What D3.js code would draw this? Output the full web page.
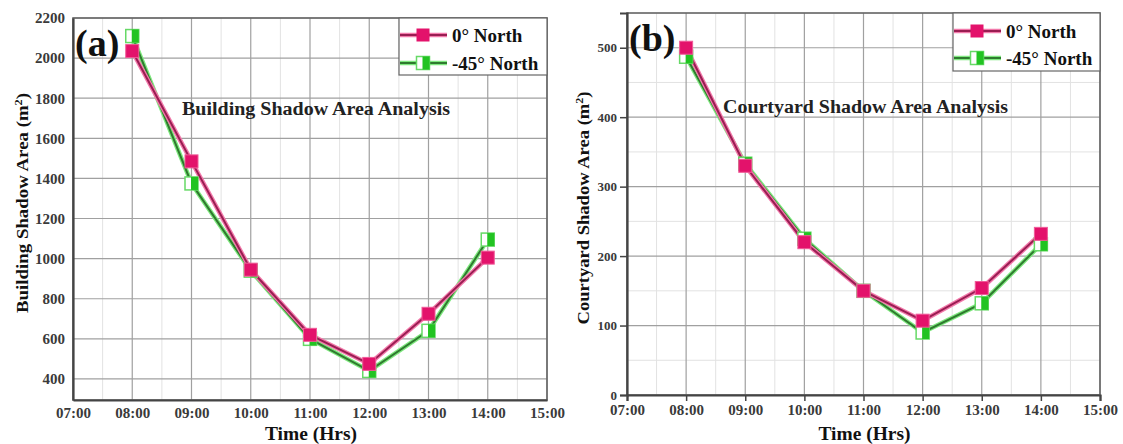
<!DOCTYPE html>
<html>
<head>
<meta charset="utf-8">
<script src="https://cdn.jsdelivr.net/npm/d3@7"></script>
<style>
  html, body { margin: 0; padding: 0; background: #fff; }
  svg text { font-family: "Liberation Serif", "Times New Roman", serif; font-weight: bold; }
</style>
</head>
<body>
<svg id="chart" width="1123" height="444"></svg>
<script>
// Hours of the day on the x axis
const hours = [8, 9, 10, 11, 12, 13, 14];
const xTicks = [7, 8, 9, 10, 11, 12, 13, 14, 15];

// Building shadow area (m²)
const buildingNorth0 = [2035, 1485, 945, 620, 475, 725, 1005];
const buildingNorth45 = [2110, 1375, 940, 600, 440, 640, 1095];
const buildingTicks = [400, 600, 800, 1000, 1200, 1400, 1600, 1800, 2000, 2200];

// Courtyard shadow area (m²)
const courtyardNorth0 = [500, 330, 220, 150, 107, 154, 232];
const courtyardNorth45 = [487, 333, 225, 150, 90, 132, 217];
const courtyardTicks = [0, 100, 200, 300, 400, 500];

const seriesNames = ["0° North", "-45° North"];

const svg = d3.select("#chart");
const pink = "#e3126b", pinkLine = "#9a1d52", pinkHalo = "#f27aab";
const green = "#22c322", greenLine = "#2f7a2f", greenHalo = "#7ee87e";
const ms = 13;

function drawGreenMarker(sel) {
  sel.append("rect").attr("x", -ms / 2).attr("y", -ms / 2).attr("width", ms).attr("height", ms)
    .attr("fill", "#fff").attr("stroke", "#66d966").attr("stroke-width", 1.5);
  sel.append("rect").attr("x", -0.5).attr("y", -ms / 2).attr("width", ms / 2 + 0.5).attr("height", ms)
    .attr("fill", green);
}

function panel(o) {
  const { left, right, top, bottom, yDomain, yTicks, yMinorStep, s0, s1 } = o;
  const g = svg.append("g");
  const x = d3.scaleLinear().domain([7, 15]).range([left, right]);
  const y = d3.scaleLinear().domain(yDomain).range([bottom, top]);

  // minor grid
  const minorY = d3.range(yDomain[0], yDomain[1] + 0.01, yMinorStep).filter(v => !yTicks.includes(v) && v % yMinorStep === 0);
  const minorX = d3.range(7.5, 15, 1);
  g.selectAll(".mgy").data(minorY).join("line")
    .attr("x1", left).attr("x2", right).attr("y1", d => y(d)).attr("y2", d => y(d))
    .attr("stroke", "#e2e2e2").attr("stroke-width", 1);
  g.selectAll(".mgx").data(minorX).join("line")
    .attr("x1", d => x(d)).attr("x2", d => x(d)).attr("y1", top).attr("y2", bottom)
    .attr("stroke", "#e2e2e2").attr("stroke-width", 1);
  // major grid
  g.selectAll(".gy").data(yTicks).join("line")
    .attr("x1", left).attr("x2", right).attr("y1", d => y(d)).attr("y2", d => y(d))
    .attr("stroke", "#a0a0a0").attr("stroke-width", 1.2);
  g.selectAll(".gx").data(xTicks).join("line")
    .attr("x1", d => x(d)).attr("x2", d => x(d)).attr("y1", top).attr("y2", bottom)
    .attr("stroke", "#a0a0a0").attr("stroke-width", 1.2);

  // frame
  g.append("rect").attr("x", left).attr("y", top).attr("width", right - left).attr("height", bottom - top)
    .attr("fill", "none").attr("stroke", "#666").attr("stroke-width", 1.6);

  // axes
  const xAxis = d3.axisBottom(x).tickValues(xTicks)
    .tickFormat(d => String(d).padStart(2, "0") + ":00")
    .tickSize(o.xTickSize).tickPadding(o.xPad);
  const ga = g.append("g").attr("transform", `translate(0,${bottom})`).call(xAxis);
  const yAxis = d3.axisLeft(y).tickValues(yTicks).tickFormat(d3.format("d"))
    .tickSize(o.yTickSize).tickPadding(o.yPad);
  const gy = g.append("g").attr("transform", `translate(${left},0)`).call(yAxis);
  [ga, gy].forEach(a => {
    a.select(".domain").attr("stroke", "#444").attr("stroke-width", 2.2);
    a.selectAll(".tick line").attr("stroke", "#444").attr("stroke-width", 1.5);
    a.selectAll(".tick text").attr("fill", "#3a3a3a")
      .style("font-family", "'Liberation Serif', serif").style("font-weight", "bold");
  });
  ga.selectAll(".tick text").style("font-size", "15px");
  gy.selectAll(".tick text").style("font-size", o.yFont + "px");

  // series lines
  const line = d3.line().x((d, i) => x(hours[i])).y(d => y(d));
  const drawLine = (vals, halo, core) => {
    g.append("path").attr("d", line(vals)).attr("fill", "none").attr("stroke", halo).attr("stroke-width", 4.5);
    g.append("path").attr("d", line(vals)).attr("fill", "none").attr("stroke", core).attr("stroke-width", 2);
  };
  drawLine(s1, greenHalo, greenLine);
  drawLine(s0, pinkHalo, pinkLine);

  // green half-open squares
  const gm = g.selectAll(".m45").data(s1).join("g")
    .attr("transform", (d, i) => `translate(${x(hours[i])},${y(d)})`);
  drawGreenMarker(gm);
  // pink filled squares
  g.selectAll(".m0").data(s0).join("rect")
    .attr("x", (d, i) => x(hours[i]) - ms / 2).attr("y", d => y(d) - ms / 2)
    .attr("width", ms).attr("height", ms).attr("fill", pink).attr("stroke", "#f05a98").attr("stroke-width", 1);

  // panel letter
  g.append("text").attr("x", left + 2).attr("y", top + 38).style("font-size", "38px").attr("fill", "#111").text(o.letter);
  // annotation
  g.append("text").attr("x", o.note.x).attr("y", o.note.y).style("font-size", "18px").attr("fill", "#222")
    .attr("textLength", o.note.len).attr("lengthAdjust", "spacingAndGlyphs").text(o.note.text);

  // legend
  const lg = g.append("g");
  const lx0 = o.legend.x, ly0 = top;
  lg.append("rect").attr("x", lx0).attr("y", ly0).attr("width", right - lx0).attr("height", o.legend.h)
    .attr("fill", "#fff").attr("stroke", "#666").attr("stroke-width", 1.2);
  const rows = [
    { name: seriesNames[0], halo: pinkHalo, core: pinkLine, kind: "pink" },
    { name: seriesNames[1], halo: greenHalo, core: greenLine, kind: "green" }
  ];
  rows.forEach((r, i) => {
    const cy = ly0 + o.legend.rows[i];
    lg.append("line").attr("x1", lx0 + 1).attr("x2", lx0 + 48).attr("y1", cy).attr("y2", cy)
      .attr("stroke", r.halo).attr("stroke-width", 4.5);
    lg.append("line").attr("x1", lx0 + 1).attr("x2", lx0 + 48).attr("y1", cy).attr("y2", cy)
      .attr("stroke", r.core).attr("stroke-width", 2);
    if (r.kind === "pink") {
      lg.append("rect").attr("x", lx0 + 24 - ms / 2).attr("y", cy - ms / 2).attr("width", ms).attr("height", ms)
        .attr("fill", pink);
    } else {
      drawGreenMarker(lg.append("g").attr("transform", `translate(${lx0 + 24},${cy})`));
    }
    lg.append("text").attr("x", lx0 + 53).attr("y", cy + 7).style("font-size", "19px").attr("fill", "#111").text(r.name);
  });

  // axis titles
  g.append("text").attr("x", (left + right) / 2 + 1).attr("y", 440).attr("text-anchor", "middle")
    .style("font-size", "19px").attr("fill", "#111")
    .attr("textLength", 92).attr("lengthAdjust", "spacingAndGlyphs").text("Time (Hrs)");
  const yt = g.append("text").attr("transform", `translate(${o.yTitle.x},${o.yTitle.y}) rotate(-90)`)
    .attr("text-anchor", "middle").style("font-size", "17px").attr("fill", "#111")
    .attr("textLength", o.yTitle.len).attr("lengthAdjust", "spacingAndGlyphs");
  yt.append("tspan").text(o.yTitle.text + " (m");
  yt.append("tspan").attr("baseline-shift", "super").style("font-size", "11px").text("2");
  yt.append("tspan").text(")");
}

panel({
  left: 73, right: 547, top: 18, bottom: 400,
  yDomain: [295, 2200], yTicks: buildingTicks, yMinorStep: 100,
  s0: buildingNorth0, s1: buildingNorth45, letter: "(a)",
  note: { x: 182, y: 115, len: 268, text: "Building Shadow Area Analysis" },
  yTitle: { text: "Building Shadow Area", x: 28, y: 203, len: 220 },
  legend: { x: 399, h: 57, rows: [17, 45] },
  xTickSize: 0, xPad: 7.5, yTickSize: 0, yPad: 8, yFont: 15
});

panel({
  left: 627, right: 1100, top: 13, bottom: 395,
  yDomain: [0, 550], yTicks: courtyardTicks, yMinorStep: 50,
  s0: courtyardNorth0, s1: courtyardNorth45, letter: "(b)",
  note: { x: 723, y: 113, len: 285, text: "Courtyard Shadow Area Analysis" },
  yTitle: { text: "Courtyard Shadow Area", x: 589, y: 208, len: 233 },
  legend: { x: 953, h: 58, rows: [18, 45] },
  xTickSize: 6, xPad: 3, yTickSize: 7, yPad: 3, yFont: 13
});
</script>
</body>
</html>
